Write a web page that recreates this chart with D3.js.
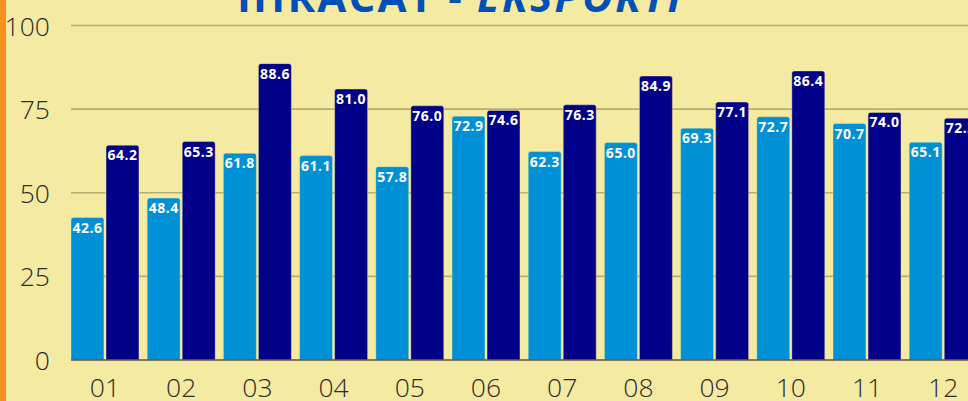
<!DOCTYPE html>
<html>
<head>
<meta charset="utf-8">
<script src="https://cdn.jsdelivr.net/npm/d3@7"></script>
<style>
  html, body { margin: 0; padding: 0; background: #f4eaa1; overflow: hidden; }
  svg { display: block; }
</style>
</head>
<body>
<div id="chart"></div>
<script>
// data
const months = ["01","02","03","04","05","06","07","08","09","10","11","12"];
const series = ["prev", "curr"];
const prevValues = [42.6, 48.4, 61.8, 61.1, 57.8, 72.9, 62.3, 65.0, 69.3, 72.7, 70.7, 65.1];
const currValues = [64.2, 65.3, 88.6, 81.0, 76.0, 74.6, 76.3, 84.9, 77.1, 86.4, 74.0, 72.3];
const yTicks = [0, 25, 50, 75, 100];

const width = 968, height = 401;
const colors = {prev: "#0090d5", curr: "#000088"};

const svg = d3.select("#chart").append("svg")
    .attr("width", width)
    .attr("height", height);

svg.append("rect").attr("width", width).attr("height", height).attr("fill", "#f4eaa1");
// orange strip on the left
svg.append("rect").attr("x", 0).attr("y", 0).attr("width", 6).attr("height", height).attr("fill", "#f7901e");

const y = d3.scaleLinear().domain([0, 100]).range([360, 25.5]);
const x = d3.scaleBand().domain(months).range([71, 977.2]).paddingInner(0.108).paddingOuter(0);
const xSub = d3.scaleBand().domain(series).range([0, x.bandwidth()]).paddingInner(0.06);

// grid
svg.append("g")
    .selectAll("line")
    .data(yTicks.filter(d => d > 0))
    .join("line")
    .attr("x1", 71).attr("x2", width)
    .attr("y1", d => y(d)).attr("y2", d => y(d))
    .attr("stroke", "#b7ae72")
    .attr("stroke-width", 1.6);

// y axis labels
const yAxis = svg.append("g")
    .attr("transform", "translate(50,0)")
    .call(d3.axisLeft(y).tickValues(yTicks).tickSize(0).tickPadding(0));
yAxis.select(".domain").remove();
yAxis.selectAll("text")
    .attr("font-family", "'Open Sans', sans-serif")
    .attr("font-weight", 300)
    .attr("font-size", 26.5)
    .attr("fill", "#2b2b2b")
    .attr("dy", "0.36em");

const data = months.map((m, i) => ({month: m, prev: prevValues[i], curr: currValues[i]}));

const groups = svg.append("g")
    .selectAll("g")
    .data(data)
    .join("g")
    .attr("transform", d => `translate(${x(d.month)},0)`);

const r = 2.5;
function barPath(x0, w, top, bottom) {
    return `M${x0},${bottom}V${top + r}Q${x0},${top} ${x0 + r},${top}H${x0 + w - r}Q${x0 + w},${top} ${x0 + w},${top + r}V${bottom}Z`;
}

groups.selectAll("path")
    .data(d => series.map(s => ({key: s, value: d[s]})))
    .join("path")
    .attr("d", d => barPath(xSub(d.key), xSub.bandwidth(), y(d.value), y(0)))
    .attr("fill", d => colors[d.key])
    .attr("stroke", "#f4eaa1")
    .attr("stroke-opacity", 0.5)
    .attr("stroke-width", 0.8);

groups.selectAll("text")
    .data(d => series.map(s => ({key: s, value: d[s]})))
    .join("text")
    .attr("x", d => xSub(d.key) + xSub.bandwidth() / 2)
    .attr("y", d => y(d.value) + 15)
    .attr("text-anchor", "middle")
    .attr("font-family", "'Open Sans', sans-serif")
    .attr("font-weight", "bold")
    .attr("font-size", 14)
    .attr("letter-spacing", 0.5)
    .attr("fill", "#ffffff")
    .text(d => d.value.toFixed(1));

// baseline
svg.append("line")
    .attr("x1", 71).attr("x2", width)
    .attr("y1", y(0)).attr("y2", y(0))
    .attr("stroke", "#5a5540")
    .attr("stroke-width", 1.6);

// x axis labels
const xAxis = svg.append("g")
    .attr("transform", `translate(0,${y(0)})`)
    .call(d3.axisBottom(x).tickSize(0).tickPadding(18.5));
xAxis.select(".domain").remove();
xAxis.selectAll("text")
    .attr("font-family", "'Open Sans', sans-serif")
    .attr("font-weight", 300)
    .attr("font-size", 26.5)
    .attr("fill", "#2b2b2b");

// title, cut off at the top
const title = svg.append("text")
    .attr("x", 460)
    .attr("y", 11.5)
    .attr("text-anchor", "middle")
    .attr("font-family", "'Open Sans', sans-serif")
    .attr("font-weight", "bold")
    .attr("font-size", 42)
    .attr("letter-spacing", 2.2)
    .attr("fill", "#0050b8");
title.append("tspan").text("İHRACAT - ");
title.append("tspan").attr("font-style", "italic").text("EKSPORTI");
</script>
</body>
</html>
